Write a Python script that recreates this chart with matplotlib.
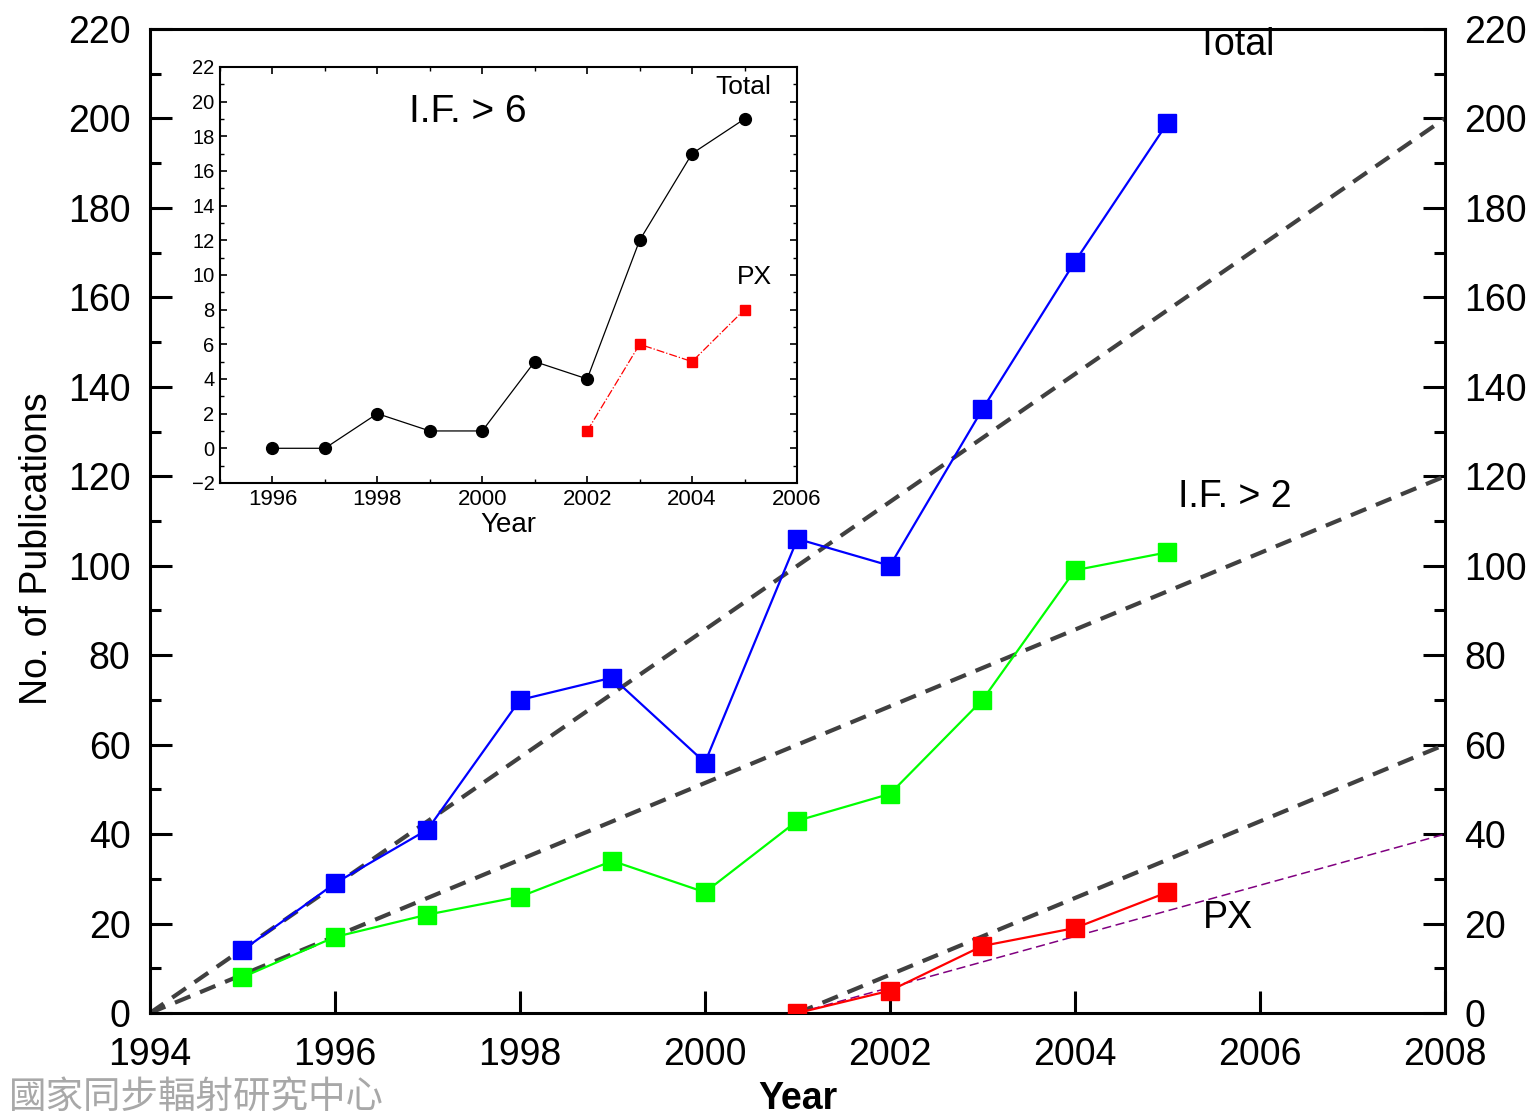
import numpy as np
import matplotlib
matplotlib.use('Agg')
import matplotlib.pyplot as plt
from matplotlib.ticker import MultipleLocator

plt.rcParams['font.family'] = ['Liberation Sans', 'DejaVu Sans']

# 主图数据
years = [1995, 1996, 1997, 1998, 1999, 2000, 2001, 2002, 2003, 2004, 2005]
total = [14, 29, 41, 70, 75, 56, 106, 100, 135, 168, 199]
if2 = [8, 17, 22, 26, 34, 27, 43, 49, 70, 99, 103]
px_years = [2001, 2002, 2003, 2004, 2005]
px = [0, 5, 15, 19, 27]

# 趋势线（起点、终点）
trend_x1 = [1994, 2008]
trend_total = [0, 200]
trend_if2 = [0, 120]
trend_x2 = [2001, 2008]
trend_px = [0, 60]
trend_px2 = [0, 40]

# 插图数据 I.F. > 6
in_years = [1996, 1997, 1998, 1999, 2000, 2001, 2002, 2003, 2004, 2005]
in_total = [0, 0, 2, 1, 1, 5, 4, 12, 17, 19]
in_px_years = [2002, 2003, 2004, 2005]
in_px = [1, 6, 5, 8]

fig = plt.figure(figsize=(15.33, 11.19), dpi=100)
ax = fig.add_axes([0.0978, 0.0947, 0.8448, 0.8794])

ax.plot(trend_x1, trend_total, ls=(0, (4, 2.5)), color='#404040', lw=3, zorder=2)
ax.plot(trend_x1, trend_if2, ls=(0, (4, 2.5)), color='#404040', lw=3, zorder=2)
ax.plot(trend_x2, trend_px, ls=(0, (4, 2.5)), color='#404040', lw=3, zorder=2)
ax.plot(trend_x2, trend_px2, ls=(0, (6, 3)), color='#800080', lw=1.1, zorder=2)

ax.plot(years, total, '-s', color='#0000ff', lw=1.6, ms=13, zorder=3)
ax.plot(years, if2, '-s', color='#00ff00', lw=1.6, ms=13, zorder=3)
ax.plot(px_years, px, '-s', color='#ff0000', lw=1.6, ms=13, zorder=3)

ax.set_xlim(1994, 2008)
ax.set_ylim(0, 220)
ax.xaxis.set_major_locator(MultipleLocator(2))
ax.yaxis.set_major_locator(MultipleLocator(20))
ax.yaxis.set_minor_locator(MultipleLocator(10))
ax.tick_params(axis='x', which='major', direction='in', length=16, width=2.2,
               labelsize=27, pad=17, top=False)
ax.tick_params(axis='y', which='major', direction='in', length=16, width=2.2,
               labelsize=27, pad=14, right=True, labelright=True)
ax.tick_params(axis='y', which='minor', direction='in', length=8, width=2.2, right=True)
for s in ax.spines.values():
    s.set_linewidth(2.2)

ax.set_xlabel('Year', fontsize=27, fontweight='bold', labelpad=6)
ax.set_ylabel('No. of Publications', fontsize=27)
ax.yaxis.set_label_coords(-0.073, 0.4715)

ax.text(2005.73, 216.4, 'Total', fontsize=27, ha='center', va='center', zorder=1)
ax.text(2005.73, 115.4, 'I.F. > 2', fontsize=27, ha='center', va='center')
ax.text(2005.65, 21.2, 'PX', fontsize=27, ha='center', va='center')

# 插图
ins = fig.add_axes([0.1435, 0.5684, 0.3764, 0.3718])
ins.plot(in_years, in_total, '-o', color='black', lw=0.9, ms=8.5)
ins.plot(in_px_years, in_px, '-.s', color='#ff0000', lw=0.9, ms=6.5)
ins.set_xlim(1995, 2006)
ins.set_ylim(-2, 22)
ins.xaxis.set_major_locator(MultipleLocator(2))
ins.xaxis.set_minor_locator(MultipleLocator(1))
ins.yaxis.set_major_locator(MultipleLocator(2))
ins.yaxis.set_minor_locator(MultipleLocator(1))
ins.tick_params(which='major', direction='in', length=5, width=1.2,
                top=True, right=True, labelsize=14.5, pad=4)
ins.tick_params(which='minor', direction='in', length=3, width=1.0,
                top=True, right=True)
ins.tick_params(axis='x', labelsize=16)
for s in ins.spines.values():
    s.set_linewidth(1.5)
ins.set_xlabel('Year', fontsize=20, labelpad=2)
ins.text(1999.73, 19.4, 'I.F. > 6', fontsize=28, ha='center', va='center')
ins.text(2004.97, 20.85, 'Total', fontsize=19, ha='center', va='center')
ins.text(2005.18, 9.9, 'PX', fontsize=19, ha='center', va='center')

# 水印
fig.text(0.006, 0.002, '國家同步輻射研究中心', fontsize=27, color='#a8a8a8',
         family=['Noto Sans CJK TC', 'DejaVu Sans'], ha='left', va='bottom')

fig.savefig('out.png', dpi=100)
